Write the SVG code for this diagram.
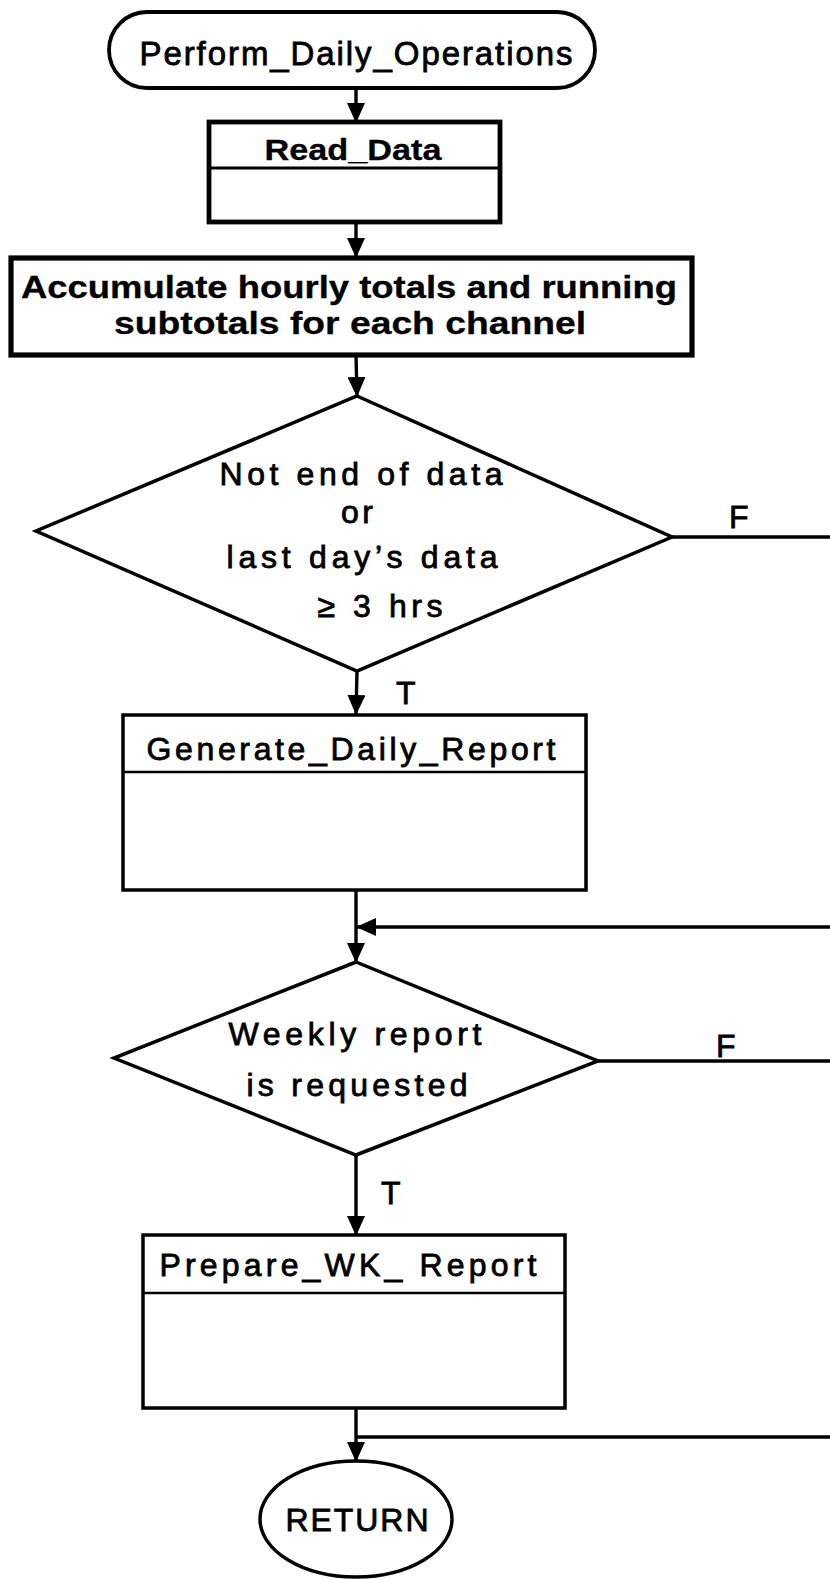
<svg xmlns="http://www.w3.org/2000/svg" width="830" height="1579" viewBox="0 0 830 1579">
  <defs>
    <marker id="arrow" markerUnits="userSpaceOnUse" markerWidth="20" markerHeight="18" viewBox="0 0 20 18" refX="19" refY="9" orient="auto">
      <path d="M0,0 L20,9 L0,18 Z" fill="#000"/>
    </marker>
    <style>
      .shape { fill: #fff; stroke: #000; stroke-linejoin: miter; }
      .thin { stroke-width: 3.5; }
      .mid { stroke-width: 3.8; }
      .thick { stroke-width: 4.8; }
      .heavy { stroke-width: 5.2; }
      .conn { fill: none; stroke: #000; stroke-width: 3.4; }
      .txt { font-family: "Liberation Sans", Arial, Helvetica, sans-serif; fill: #000; stroke: #000; stroke-width: 0.8; text-anchor: middle; }
      .bold { font-weight: bold; stroke-width: 0.3; }
      .lbl { font-family: "Liberation Sans", Arial, Helvetica, sans-serif; fill: #000; stroke: #000; stroke-width: 0.8; font-size: 32px; }
    </style>
  </defs>
  <rect width="830" height="1579" fill="#fff"/>

  <!-- connectors -->
  <g id="connectors">
    <line class="conn" x1="356" y1="88" x2="356" y2="122" marker-end="url(#arrow)"/>
    <line class="conn" x1="356" y1="222" x2="356" y2="257" marker-end="url(#arrow)"/>
    <line class="conn" x1="356" y1="355" x2="357" y2="396" marker-end="url(#arrow)"/>
    <line class="conn" x1="357" y1="671" x2="356" y2="714" marker-end="url(#arrow)"/>
    <line class="conn" x1="356" y1="890" x2="356" y2="962" marker-end="url(#arrow)"/>
    <line class="conn" x1="830" y1="927" x2="357" y2="927" marker-end="url(#arrow)"/>
    <line class="conn" x1="672" y1="537" x2="830" y2="537"/>
    <line class="conn" x1="598" y1="1061" x2="830" y2="1061"/>
    <line class="conn" x1="356" y1="1155" x2="356" y2="1235" marker-end="url(#arrow)"/>
    <line class="conn" x1="356" y1="1408" x2="356" y2="1461" marker-end="url(#arrow)"/>
    <line class="conn" x1="830" y1="1437" x2="356" y2="1437"/>
    <text class="lbl" x="729" y="528">F</text>
    <text class="lbl" x="396" y="704">T</text>
    <text class="lbl" x="716" y="1057">F</text>
    <text class="lbl" x="381" y="1204">T</text>
  </g>

  <!-- start terminal -->
  <g id="start">
    <rect class="shape mid" x="109" y="12" width="486" height="76" rx="38" ry="38"/>
    <text class="txt" x="356" y="65" font-size="33" stroke-width="0.5" textLength="433" lengthAdjust="spacing">Perform_Daily_Operations</text>
  </g>

  <!-- module call: Read_Data -->
  <g id="read-data">
    <rect class="shape thick" x="209" y="122" width="291" height="100"/>
    <line stroke="#000" stroke-width="3" x1="209" y1="168" x2="500" y2="168"/>
    <text class="txt bold" x="353" y="160" font-size="30" textLength="177" lengthAdjust="spacingAndGlyphs">Read_Data</text>
  </g>

  <!-- process: accumulate -->
  <g id="accumulate">
    <rect class="shape heavy" x="11" y="258" width="681" height="97"/>
    <text class="txt bold" x="349" y="298" font-size="31" textLength="656" lengthAdjust="spacingAndGlyphs">Accumulate hourly totals and running</text>
    <text class="txt bold" x="350" y="334" font-size="31" textLength="472" lengthAdjust="spacingAndGlyphs">subtotals for each channel</text>
  </g>

  <!-- decision: data check -->
  <g id="data-check">
    <polygon class="shape thin" points="357,396 672,537 357,671 36,531"/>
    <text class="txt" x="361" y="485" font-size="32" textLength="283" lengthAdjust="spacing">Not end of data</text>
    <text class="txt" x="357" y="523" font-size="32" textLength="32" lengthAdjust="spacing">or</text>
    <text class="txt" x="362" y="568" font-size="32" textLength="271" lengthAdjust="spacing">last day’s data</text>
    <text class="txt" x="380" y="617" font-size="32" textLength="125" lengthAdjust="spacing">≥ 3 hrs</text>
  </g>

  <!-- module call: Generate_Daily_Report -->
  <g id="generate-daily-report">
    <rect class="shape thin" x="123" y="715" width="463" height="175"/>
    <line stroke="#000" stroke-width="2.5" x1="123" y1="772" x2="586" y2="772"/>
    <text class="txt" x="351" y="760" font-size="32" textLength="409" lengthAdjust="spacing">Generate_Daily_Report</text>
  </g>

  <!-- decision: weekly report -->
  <g id="weekly-check">
    <polygon class="shape thin" points="356,962 598,1061 356,1155 114,1058"/>
    <text class="txt" x="355" y="1045" font-size="32" textLength="253" lengthAdjust="spacing">Weekly report</text>
    <text class="txt" x="357" y="1096" font-size="32" textLength="221" lengthAdjust="spacing">is requested</text>
  </g>

  <!-- module call: Prepare_WK_Report -->
  <g id="prepare-wk-report">
    <rect class="shape thin" x="143" y="1235" width="422" height="173"/>
    <line stroke="#000" stroke-width="2.5" x1="143" y1="1293" x2="565" y2="1293"/>
    <text class="txt" x="348" y="1276" font-size="32" textLength="377" lengthAdjust="spacing">Prepare_WK_ Report</text>
  </g>

  <!-- end terminal -->
  <g id="return">
    <ellipse class="shape thin" cx="356" cy="1519" rx="96" ry="58"/>
    <text class="txt" x="357" y="1531" font-size="32" textLength="143" lengthAdjust="spacing">RETURN</text>
  </g>
</svg>
